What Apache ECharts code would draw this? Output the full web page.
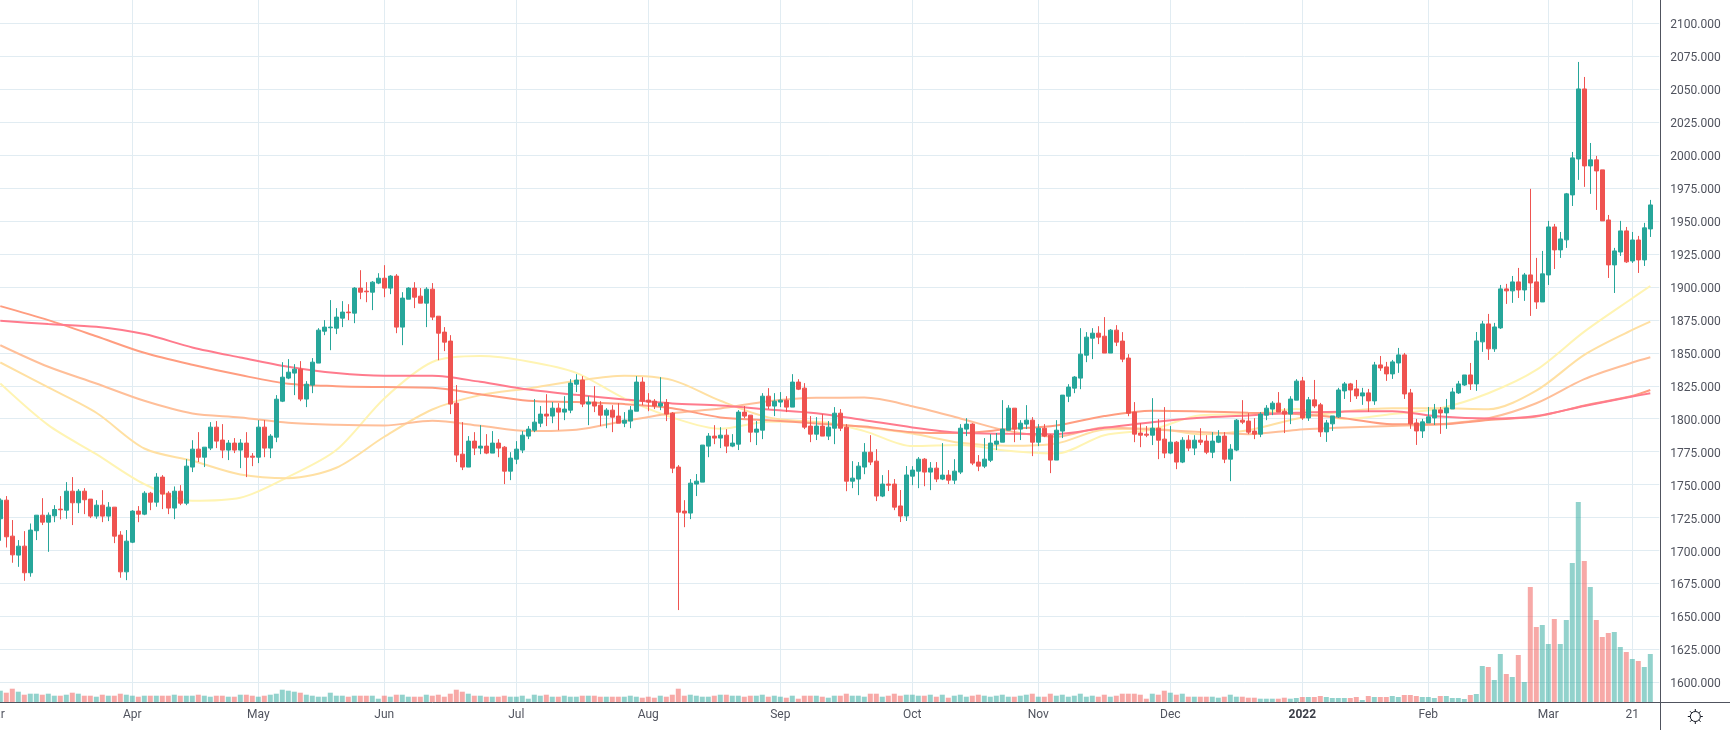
<!DOCTYPE html>
<html>
<head>
<meta charset="utf-8">
<style>
  html, body { margin: 0; padding: 0; background: #fff; }
  #chart { width: 1730px; height: 730px; }
</style>
<script src="https://cdn.jsdelivr.net/npm/echarts@6/dist/echarts.min.js"></script>
</head>
<body>
<div id="chart"></div>
<script>
// month labels and how many trading days sit under each one
const tickLabels = ['Mar', 'Apr', 'May', 'Jun', 'Jul', 'Aug', 'Sep', 'Oct', 'Nov', 'Dec', '2022', 'Feb', 'Mar', '21'];
const barsPerTick = [23, 21, 21, 22, 22, 22, 22, 21, 22, 22, 21, 20, 14, 5];
const priceTicks = [1600, 1625, 1650, 1675, 1700, 1725, 1750, 1775, 1800, 1825, 1850, 1875, 1900, 1925, 1950, 1975, 2000, 2025, 2050, 2075, 2100];

const opens = [
  1724.1,1738.2,1710.9,1696.5,1703.3,1683.1,1715,1726.8,1721.5,1726.3,
  1731.4,1730.6,1745,1736.2,1745,1739,1726.1,1734.4,1726.1,1732.9,
  1711.7,1683.8,1706.3,1729.9,1727.6,1743.5,1736.7,1755.7,1743.5,1732.2,
  1745,1735.9,1763.3,1776.9,1770.8,1777.7,1793.6,1783.8,1776.2,1781.5,
  1776.2,1781.5,1771.6,1770.8,1793.6,1777.7,1786,1813.3,1830.8,1834.6,
  1837.6,1814.9,1825.5,1842.2,1866.4,1869,1868.7,1876.3,1880.9,1880.1,
  1899.1,1896.8,1896,1902.9,1906.6,1899.1,1908.2,1869.5,1890.7,1899.1,
  1893,1887.7,1898.3,1877.8,1865.7,1858.9,1811.8,1773.1,1763.3,1783,
  1777.7,1779.2,1773.9,1781.5,1778.4,1760.2,1769.3,1776.2,1786.8,1791.3,
  1796.6,1803.5,1802,1808,1805,1806.5,1826.2,1829.3,1811.1,1812.6,
  1810.3,1802.7,1806.5,1802,1796.6,1798.2,1805.7,1827.8,1814.1,1813.3,
  1809.6,1812.3,1804.2,1763.3,1729.9,1728.4,1750.4,1751.9,1779.2,1786.8,
  1785.3,1787.5,1779.2,1780.7,1805,1802.7,1789.8,1791.3,1817.1,1809.6,
  1812.6,1814.1,1808.8,1827.8,1823.2,1794.4,1788.3,1794.4,1786.8,1792.8,
  1804.2,1793.6,1752.6,1754.2,1763.3,1774.6,1767.8,1741.3,1750.4,1750.4,
  1733.8,1726.2,1756.4,1760.2,1769.3,1759.5,1762.5,1754.2,1757.2,1753.4,
  1759.5,1792.1,1795.9,1767.1,1764,1768.5,1780.7,1782.2,1791.3,1808,
  1792.1,1795.9,1798.9,1782.2,1792.8,1787.5,1768.6,1790.6,1817.1,1823.2,
  1830.8,1848.2,1861.1,1864.9,1862.6,1849.8,1867.2,1858.9,1846,1805,
  1789.1,1788.3,1787.5,1792.8,1784.5,1773.9,1782.2,1767.1,1783.7,1777.7,
  1783.7,1783,1774.6,1782.2,1786.8,1769.3,1776.2,1798.9,1798.2,1790.6,
  1788.3,1802.7,1807.3,1811.8,1805.7,1803.5,1814.1,1828.7,1800.6,1814.3,
  1810.5,1790,1796.1,1801.4,1821.1,1826.4,1822.6,1817.3,1819.6,1813.5,
  1840.8,1839.3,1834,1842.3,1848.4,1819.6,1796.8,1790.7,1796.8,1800.6,
  1806.7,1804.4,1807.4,1819.6,1825.6,1833.2,1826.4,1858.3,1871.9,1853,
  1868.9,1898.5,1897,1903.8,1897.7,1909.1,1903.8,1888.6,1909.1,1945.5,
  1928.1,1935.7,1969.8,1997.1,2050.2,1991.8,1996.4,1988.8,1950.8,1916.7,
  1926.5,1942.5,1919.7,1935.6,1920.5,1944
];
const closes = [
  1738.2,1710.4,1696.7,1703.3,1683.1,1715.5,1726.8,1721.5,1726.8,1731.1,
  1730.9,1745,1736.2,1745,1738.5,1726.1,1734.4,1726.1,1732.9,1710.9,
  1683.8,1707.1,1729.9,1727.6,1743.5,1736.7,1755.7,1742.8,1732.2,1745,
  1735.9,1764,1776.9,1770.8,1778.4,1793.6,1783,1776.2,1781.5,1776.2,
  1781.5,1770.8,1770.8,1793.6,1777.7,1786.8,1814.8,1831.5,1835.3,1837.6,
  1814.9,1826.2,1842.9,1867.2,1869.5,1869.5,1877.1,1880.9,1880.4,1899.1,
  1896,1896.3,1903.6,1906.6,1899.1,1908.2,1869.5,1891.5,1899.1,1892.2,
  1887.7,1898.3,1877.1,1864.9,1858.1,1811.1,1772.4,1763.3,1783,1777.7,
  1779.2,1773.9,1781.5,1777.7,1760.2,1770.1,1776.9,1787.5,1792.1,1797.4,
  1803.5,1802,1808,1805,1807.3,1827,1829.3,1811.1,1812.6,1809.6,
  1802.7,1806.5,1801.2,1796.6,1798.9,1806.5,1827.8,1813.3,1812.6,1809.6,
  1811.8,1803.5,1762.5,1729.1,1728.4,1751.1,1752.6,1780,1786.8,1785.3,
  1787.5,1779.2,1781.5,1805,1802,1789.8,1792.1,1817.1,1809.6,1813.3,
  1814.1,1808.8,1827.8,1822.4,1793.6,1788.3,1794.4,1786.8,1793.6,1804.2,
  1792.8,1752.6,1754.9,1764,1774.6,1767.1,1741.3,1750.4,1749.6,1732.9,
  1726.2,1757.3,1761,1769.3,1759.5,1762.5,1754.2,1757.2,1753.4,1760.2,
  1792.8,1795.9,1766.3,1764,1769.3,1781.5,1783,1792.1,1808,1792.1,
  1796.6,1798.9,1782.2,1792.8,1786.8,1768.6,1791.3,1817.9,1824,1831.6,
  1849,1861.9,1864.9,1861.9,1849.8,1867.2,1858.1,1845.2,1804.2,1788.3,
  1787.5,1787.5,1792.8,1783.7,1773.9,1782.2,1767.1,1783.7,1777.7,1783.7,
  1782.2,1774.6,1783,1786.8,1769.3,1776.9,1798.9,1797.4,1789.8,1788.3,
  1803.5,1808,1811.8,1805,1803.5,1814.9,1828.5,1800.6,1814.3,1809.7,
  1790,1796.8,1802.1,1821.8,1826.4,1821.8,1817.3,1819.6,1813.5,1840.8,
  1838.5,1834,1843.1,1848.4,1818.8,1796.1,1790.7,1797.6,1801.4,1806.7,
  1804.4,1808.2,1820.3,1826.4,1833.2,1826.4,1859,1871.9,1853,1869.6,
  1898.5,1897,1903.8,1897.7,1909.1,1903,1888.6,1909.9,1945.5,1928.1,
  1936.4,1970.6,1997.9,2050.2,1991.8,1996.4,1988,1950.1,1916.7,1927.3,
  1942.5,1919,1935.6,1920.5,1944.8,1962.2
];
const lows = [
  1707.4,1702.3,1690.7,1687.6,1677,1680.1,1707.9,1719.3,1699,1721.5,
  1723.6,1724.1,1719.3,1728.4,1727.6,1724.6,1724.1,1721.5,1722.3,1705.6,
  1679.3,1677.5,1705.6,1721.5,1726.8,1730.6,1733.2,1731.4,1727.6,1723.8,
  1734.4,1734.4,1759.5,1767.1,1763.3,1776.2,1777.7,1770.1,1768.6,1773.9,
  1762.5,1755.7,1764,1766.3,1770.8,1770.1,1782.2,1812.6,1830,1817.9,
  1813.3,1808.8,1819.4,1842.2,1863.4,1852,1864.2,1869.5,1874.8,1872.5,
  1890.7,1888.4,1882.4,1902.1,1892.2,1894.5,1864.9,1855.8,1890.7,1883.9,
  1887.7,1869.5,1874.8,1844.4,1851.3,1803.5,1767.1,1761,1763.3,1772.4,
  1773.1,1773.1,1773.9,1770.8,1750.4,1753.4,1765.5,1773.9,1784.5,1789.8,
  1793.6,1794.4,1796.6,1791.3,1798.9,1804.2,1820.2,1808.8,1795.1,1805,
  1794.4,1792.8,1789.8,1796.6,1793.6,1792.8,1805.7,1810.3,1805.7,1807.3,
  1806.5,1798.2,1758.7,1654.8,1717.7,1723.8,1741.3,1751.9,1770.8,1780.7,
  1777.7,1773.9,1778.4,1776.2,1800.4,1782.2,1780,1784.5,1807.3,1802,
  1808.8,1805,1808.8,1821.7,1792.1,1782.2,1783.8,1786.8,1783.8,1780.7,
  1790.6,1745,1747.3,1742,1757.9,1764.8,1737.5,1740.5,1745.1,1730.6,
  1721.6,1722.4,1749.6,1747.3,1748.8,1745.8,1751.9,1753.4,1750.4,1750.4,
  1758,1786.8,1764.8,1760.2,1762.5,1767.1,1776.2,1782.2,1791.3,1782.2,
  1783.8,1792.1,1771.6,1779.2,1786,1758.7,1768.6,1785.3,1812.6,1819.4,
  1822.4,1842.9,1845.2,1856.6,1849.8,1849.8,1855.1,1842.9,1801.9,1782.2,
  1778.4,1786,1780,1769.3,1770.1,1773.1,1761.7,1766.3,1775.4,1772.4,
  1780,1773.1,1770.1,1781.5,1766.3,1752.6,1775.4,1795.9,1788.3,1784.5,
  1786,1798.9,1802.7,1805,1789.1,1795.9,1814.1,1799.1,1798.3,1808.2,
  1786.2,1782.4,1790.7,1800.6,1815,1812.7,1815,1810.5,1805.2,1810.5,
  1836.3,1828.7,1830.2,1834.8,1815,1792.3,1780.1,1785.4,1796.8,1795.3,
  1788.5,1792.3,1807.4,1818.8,1824.9,1821.8,1821.1,1850.7,1844.6,1850.7,
  1868.1,1887.1,1887.9,1891.6,1889.4,1878,1883.3,1888.6,1901.5,1913.6,
  1922,1929.6,1961.4,1981.2,1975.9,1970.6,1958.4,1950.1,1906.8,1895.4,
  1923.5,1918.2,1918.2,1910.6,1915.9,1937.9
];
const highs = [
  1739.5,1741.3,1723.1,1707.9,1714.7,1720.5,1726.8,1739.7,1728.9,1734.4,
  1741.3,1751.9,1755.7,1746.6,1747.3,1739,1738.2,1745.8,1736.7,1732.9,
  1714.7,1715.5,1730.6,1733.7,1745,1744.5,1758.7,1757.2,1745,1748.6,
  1749.6,1769.3,1783.7,1789.8,1778.4,1797.4,1798.2,1795.9,1783.8,1785.3,
  1784.5,1789.8,1773.9,1798.9,1798.9,1788.3,1817.9,1842.9,1845.2,1841.4,
  1843.7,1828.5,1846,1868.7,1874.8,1890,1883.9,1889.2,1886.9,1899.8,
  1912.7,1903.6,1904.4,1910.4,1916.5,1908.9,1909.7,1896,1899.8,1903.6,
  1899.1,1899.8,1902.9,1877.8,1869.5,1863.4,1825.5,1797.4,1786.8,1789.8,
  1795.1,1788.3,1790.6,1784.5,1779.2,1774.6,1783,1790.6,1794.4,1814.9,
  1809.6,1818.6,1812.6,1811.8,1817.1,1830,1833.8,1832.3,1817.1,1824.7,
  1813.3,1808,1810.3,1811.8,1805,1809.6,1832.3,1831.5,1819.4,1814.9,
  1831.5,1814.9,1805,1764.8,1738.2,1754.2,1758,1780,1789.1,1795.1,
  1793.6,1792.1,1788.3,1806.5,1809.6,1802.7,1798.2,1819.4,1823.2,1819.4,
  1820.2,1817.1,1833.8,1830,1827,1802,1801.2,1803.5,1798.2,1808.8,
  1807.3,1795.9,1767.8,1767.1,1781.5,1787.5,1776.9,1757.2,1761,1754.2,
  1745.9,1764.1,1764,1770.9,1770.1,1767.1,1767.1,1781.5,1761,1769.3,
  1795.9,1800.4,1796.6,1772.4,1785.3,1788.3,1789.1,1814.1,1810.3,1808,
  1798.9,1810.3,1801.2,1795.9,1795.9,1788.3,1798.9,1817.9,1826.2,1832.3,
  1868.7,1865.7,1868.7,1870.2,1877.1,1868,1871,1865.7,1849,1812.6,
  1796.6,1794.4,1815.6,1799.7,1808.8,1794.4,1783,1786,1787.5,1787.5,
  1792.8,1787.5,1789.8,1791.3,1789.8,1780.7,1799.7,1814.1,1804.2,1800.4,
  1805,1810.3,1813.3,1820.2,1808,1817.1,1830,1831.7,1816.5,1829.4,
  1812,1799.1,1802.1,1823.4,1827.9,1827.2,1829.4,1823.4,1822.6,1843.1,
  1847.6,1843.1,1844.6,1853.7,1849.9,1822.6,1799.9,1799.9,1808.9,1811.2,
  1808.9,1815,1823.4,1828.7,1833.2,1842.3,1865.8,1874.2,1879.5,1872.7,
  1901.5,1902.3,1908.3,1914.4,1910.6,1974.4,1922,1927.3,1950.1,1947.8,
  1941.7,1971.3,2002.4,2070.7,2059.3,2009.2,1999.4,1988.8,1954.6,1929.6,
  1950.1,1945.5,1941.7,1938.7,1948.6,1966
];
const volumes = [
  11.3,9.3,13.3,10.3,7.3,8.3,8.3,7.3,8.3,6.3,
  6.3,7.3,9.3,8.3,6.3,6.3,5.3,7.3,6.3,6.3,
  8.3,7.3,6.3,5.3,6.3,6.3,6.3,6.3,6.3,7.3,
  6.3,6.3,6.3,7.3,6.3,5.3,6.3,6.3,5.3,5.3,
  7.3,7.3,6.3,5.3,6.3,7.3,8.3,12.3,11.3,10.3,
  9.3,7.3,6.3,5.3,5.3,9.3,6.3,6.3,5.3,6.3,
  6.3,6.3,6.3,3.3,6.3,5.3,7.3,7.3,5.3,5.3,
  5.3,7.3,6.3,7.3,5.3,8.3,12.3,10.3,8.3,6.3,
  6.3,5.3,5.3,5.3,6.3,5.3,5.3,6.3,3.3,7.3,
  6.3,7.3,5.3,5.3,6.3,5.3,5.3,6.3,6.3,6.3,
  5.3,5.3,5.3,5.3,5.3,6.3,5.3,4.3,5.3,4.3,
  6.3,5.3,7.3,13.3,6.3,7.3,6.3,5.3,5.3,6.3,
  7.3,7.3,6.3,6.3,5.3,6.3,6.3,7.3,5.3,6.3,
  5.3,4.3,6.3,3.3,6.3,6.3,6.3,5.3,4.3,6.3,
  6.3,8.3,6.3,6.3,5.3,8.3,8.3,5.3,6.3,8.3,
  6.3,7.3,7.3,6.3,6.3,7.3,5.3,7.3,4.3,6.3,
  7.3,5.3,6.3,7.3,6.3,5.3,6.3,7.3,5.3,5.3,
  6.3,7.3,8.3,5.3,5.3,8.3,6.3,7.3,5.3,6.3,
  8.3,5.3,6.3,5.3,7.3,5.3,6.3,8.3,8.3,8.3,
  7.3,3.3,8.3,7.3,11.3,9.3,7.3,8.3,5.3,5.3,
  5.3,5.3,5.3,4.3,5.3,7.3,5.3,5.3,4.3,4.3,
  3.3,3.3,3.3,3.3,4.3,3.3,4,5,5,5,
  6,5,4,4,4,4,5,2,6,5,
  5,5,6,5,7,7,6,5,5,4,
  6,6,4,4,3,7,8,36,35,22,
  48,28,25,47,20,115,75,77,58,83,
  58,82,139,200,141,115,82,65,69,70,
  55,50,43,41,35,48
];

// moving averages at these bars
const maBars = [
  1,9,17,25,33,41,49,57,65,73,81,89,97,105,113,121,129,137,
  145,153,161,169,177,185,193,201,209,217,225,233,241,249,257,265,273,276
];
const ma1 = [
  1826.7,1795.1,1773.1,1750.4,1737.7,1740,1755.9,1776.2,1815.4,1843,
  1847.5,1843.4,1834.8,1815.4,1800.9,1792.3,1797.7,1797.7,1790.6,1779.2,
  1780,1775.7,1773.6,1787.5,1791.8,1802.7,1803.5,1807.4,1799.8,1803.6,
  1807.9,1819.3,1837,1866.1,1891.4,1900.7
];
const ma2 = [
  1842.7,1823.7,1804.5,1777.4,1768.1,1757.7,1754.9,1762.8,1786.3,1807,
  1817.9,1823,1828.8,1832.6,1829.3,1813.6,1801,1797.4,1793.6,1788.8,
  1781.7,1779.4,1781.2,1791.8,1792.6,1788.3,1791.3,1800,1805.4,1807.9,
  1807.9,1807.2,1821.3,1848.4,1867.4,1873.7
];
const ma3 = [
  1855.8,1839.4,1826.7,1813.6,1804,1801,1796.9,1795.4,1794.9,1798.4,
  1794.6,1790.6,1791.6,1798.2,1804.2,1807.8,1813.3,1815.9,1816,1809.5,
  1800.2,1790.6,1786.3,1793.4,1791.8,1790,1788.3,1791.5,1793.3,1794.5,
  1795.8,1800.3,1811.7,1830,1842.6,1846.6
];
const ma4 = [
  1885.4,1874.8,1862.6,1850,1840.9,1833.1,1826.5,1824.7,1824,1823.5,
  1818.6,1813.6,1812.6,1811.1,1808,1801,1798.9,1796.4,1794,1789.8,
  1789.1,1792.1,1794.9,1802,1806,1805.5,1804.5,1803.6,1800.4,1795.8,
  1795.8,1799.1,1801.6,1810,1817.3,1821.8
];
const ma5 = [
  1874.3,1871.8,1869.7,1864.2,1854.1,1846.5,1839.4,1834.6,1832.6,1832.6,
  1828,1822.2,1818.1,1814.6,1811.6,1810,1807,1804.2,1798.9,1793.4,
  1789.3,1788.6,1788.3,1793.1,1797.4,1800.7,1802.5,1804.6,1805.4,1805.7,
  1801.6,1800.1,1802.1,1809.7,1816.8,1819.3
];

const upColor = '#26a69a';
const downColor = '#ef5350';
const textColor = '#50535e';
const gridColor = '#e1ecf2';

const categories = [];
tickLabels.forEach((label, i) => {
  categories.push(label);
  for (let n = 1; n < barsPerTick[i]; n++) categories.push('');
});

// first category is the off-screen March start, the first bar sits one slot later
const candleRows = [['-', '-', '-', '-']].concat(opens.map((o, i) => [o, closes[i], lows[i], highs[i]]));
const volumeRows = volumes.map((v, i) => ({
  value: [i + 1, v],
  itemStyle: {color: closes[i] >= opens[i] ? 'rgba(38,166,154,0.5)' : 'rgba(239,83,80,0.5)'}
}));

function maLine(values, color) {
  return {
    type: 'line',
    data: values.map((v, i) => [maBars[i], v]),
    smooth: 0.3,
    showSymbol: false,
    z: 3,
    lineStyle: {color: color, width: 2},
    silent: true
  };
}

const sunRays = [];
for (let a = 0; a < 8; a++) {
  const t = a * Math.PI / 4;
  sunRays.push({
    type: 'line',
    z: 10,
    shape: {
      x1: 1695.3 + 5 * Math.cos(t), y1: 716.5 + 5 * Math.sin(t),
      x2: 1695.3 + 7.5 * Math.cos(t), y2: 716.5 + 7.5 * Math.sin(t)
    },
    style: {stroke: '#131722', lineWidth: 1}
  });
}

const chart = echarts.init(document.getElementById('chart'));
chart.setOption({
  animation: false,
  backgroundColor: '#ffffff',
  grid: {left: -8.7, top: 0, width: 1668, height: 702, outerBoundsMode: 'none'},
  xAxis: {
    type: 'category',
    data: categories,
    boundaryGap: true,
    axisLine: {show: false},
    axisTick: {show: false},
    axisLabel: {
      interval: (i, name) => name !== '',
      margin: 7,
      fontFamily: 'Roboto',
      fontSize: 12,
      color: textColor,
      formatter: name => name === '2022' ? '{b|2022}' : name,
      rich: {b: {fontFamily: 'Roboto', fontSize: 12, fontWeight: 'bold', color: '#3a3d47'}}
    },
    splitLine: {
      show: true,
      alignWithLabel: true,
      interval: (i, name) => name !== '',
      lineStyle: {color: gridColor, width: 1}
    }
  },
  yAxis: [
    {
      type: 'value',
      position: 'right',
      min: 1585.05,
      max: 2117.7,
      axisLine: {show: false},
      axisTick: {show: false, customValues: priceTicks},
      axisLabel: {
        customValues: priceTicks,
        margin: 11,
        formatter: v => '{p|' + v.toFixed(3) + '}',
        rich: {p: {fontFamily: 'Roboto', fontSize: 12, color: textColor, padding: [4, 0, 0, 0]}}
      },
      splitLine: {show: true, lineStyle: {color: gridColor, width: 1}}
    },
    {type: 'value', min: 0, max: 702, show: false, splitLine: {show: false}}
  ],
  series: [
    {type: 'bar', yAxisIndex: 1, data: volumeRows, barWidth: 5, z: 2, silent: true},
    maLine(ma1, '#fff4b3'),
    maLine(ma2, '#ffe0a3'),
    maLine(ma3, '#ffbf99'),
    maLine(ma4, '#ff9d80'),
    maLine(ma5, '#ff7b8d'),
    {
      type: 'candlestick',
      data: candleRows,
      barWidth: 5,
      z: 4,
      silent: true,
      itemStyle: {
        color: upColor, color0: downColor,
        borderColor: upColor, borderColor0: downColor, borderWidth: 1
      }
    }
  ],
  graphic: [
    {type: 'line', z: 10, shape: {x1: 1660.5, y1: 0, x2: 1660.5, y2: 730}, style: {stroke: textColor, lineWidth: 1}},
    {type: 'line', z: 10, shape: {x1: 0, y1: 702.5, x2: 1730, y2: 702.5}, style: {stroke: textColor, lineWidth: 1}},
    {type: 'circle', z: 10, shape: {cx: 1695.3, cy: 716.5, r: 5}, style: {fill: '#fff', stroke: '#131722', lineWidth: 1}},
    ...sunRays
  ]
});
</script>
</body>
</html>
